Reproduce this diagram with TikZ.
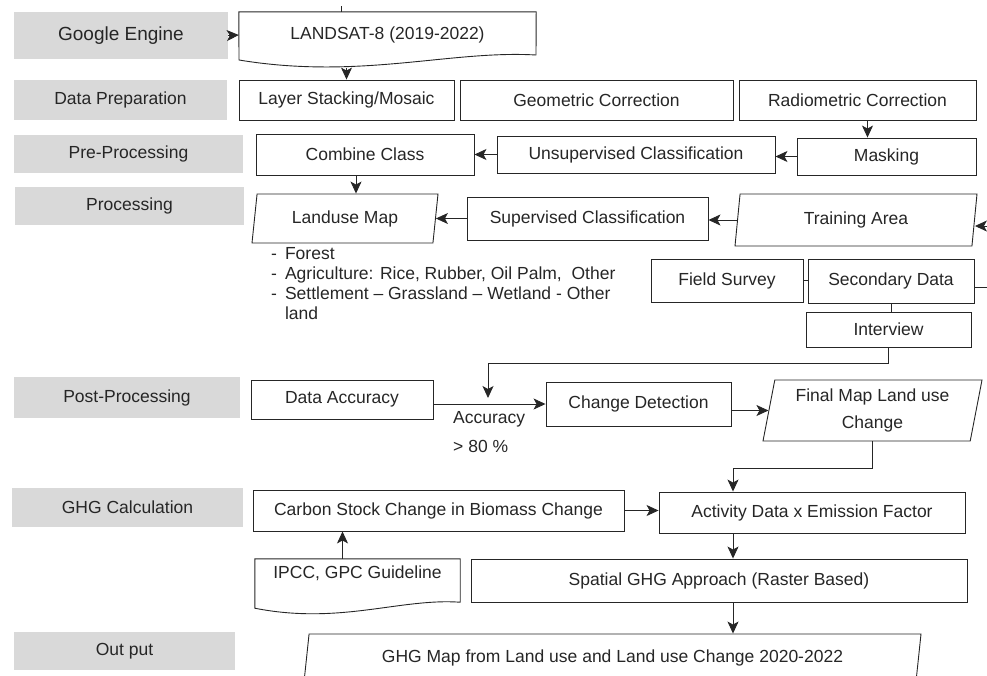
\documentclass[tikz,border=0pt]{standalone}
\usepackage{fontspec}
\setmainfont{Liberation Sans}
\usetikzlibrary{arrows.meta,shapes.geometric,calc}
\definecolor{stagegray}{HTML}{D9D9D9}
\definecolor{inkgray}{HTML}{262626}

\begin{document}
\begin{tikzpicture}[
        x=1pt, y=-1pt,
        every node/.style={font=\fontsize{17.5}{20}\selectfont, text=inkgray, inner sep=2pt},
        stage/.style={rectangle, fill=stagegray},
        box/.style={rectangle, draw=inkgray, line width=0.9pt, align=center},
        io/.style={trapezium, trapezium left angle=76, trapezium right angle=104,
            trapezium stretches body, draw=inkgray, line width=0.9pt, align=center},
        doc/.style={rectangle, align=center},
        arrow/.style={-{Stealth[length=12pt,width=11pt,inset=3pt]}, draw=inkgray, line width=0.9pt},
        link/.style={draw=inkgray, line width=0.9pt}
    ]
        \useasboundingbox (0,0) rectangle (987,675);
        \clip (0,0) rectangle (987,675);

        % Stages
        \node[stage, minimum width=214, minimum height=47, font=\fontsize{19}{22}\selectfont] (ge) at (121,35.5) {Google Engine};
        \node[stage, minimum width=213, minimum height=40] (dp) at (120.5,100) {Data Preparation};
        \node[stage, minimum width=229, minimum height=38] (pre) at (128.5,154) {Pre-Processing};
        \node[stage, minimum width=229, minimum height=38] (proc) at (129.5,206) {Processing};
        \node[stage, minimum width=226, minimum height=41] (post) at (127,397.5) {Post-Processing};
        \node[stage, minimum width=231, minimum height=39] (ghg) at (127.5,507.5) {GHG Calculation};
        \node[stage, minimum width=221, minimum height=38] (out) at (124.5,651) {Out put};

        % Source
        \node[doc, minimum width=297, minimum height=46] (landsat) at (387.5,35) {LANDSAT-8 (2019-2022)};
        \draw[link] (landsat.north west) -- (landsat.north east) -- (536,55)
            .. controls (450,50) and (360,80) .. (239,60) -- cycle;
        \coordinate (topcut) at (341,6);

        % Data preparation
        \node[box, minimum width=215, minimum height=40] (layer) at (346.5,100) {Layer Stacking/Mosaic};
        \node[box, minimum width=273, minimum height=40] (geo) at (596.5,100) {Geometric Correction};
        \node[box, minimum width=237, minimum height=40] (radio) at (857.5,100) {Radiometric Correction};

        % Pre-processing
        \node[box, minimum width=179, minimum height=37] (mask) at (886.5,156.5) {Masking};
        \node[box, minimum width=278, minimum height=37] (unsup) at (636,154.5) {Unsupervised Classification};
        \node[box, minimum width=218, minimum height=41] (combine) at (365,154.5) {Combine Class};

        % Processing
        \node[io, minimum width=186, minimum height=49] (landuse) at (345,218.5) {Landuse Map};
        \node[box, minimum width=241, minimum height=43] (sup) at (587.5,218.5) {Supervised Classification};
        \node[io, minimum width=242, minimum height=52] (train) at (856,220) {Training Area};
        \node[box, minimum width=152, minimum height=43] (field) at (727,280.5) {Field Survey};
        \node[box, minimum width=166, minimum height=44] (second) at (891,281) {Secondary Data};
        \node[box, minimum width=165, minimum height=35] (interview) at (888.5,329.5) {Interview};
        \node[anchor=north west] (classes) at (269,243) {%
            \begin{tabular}{@{}l@{\hspace{8pt}}l@{}}
                - & Forest\\
                - & Agriculture: Rice, Rubber, Oil Palm,\ \ Other\\
                - & Settlement -- Grassland -- Wetland - Other\\
                  & land
            \end{tabular}};
        \coordinate (inR) at (987,226);
        \coordinate (outR) at (987,287);

        % Post-processing
        \node[box, minimum width=182, minimum height=39] (acc) at (342,399.5) {Data Accuracy};
        \node[box, minimum width=185, minimum height=44] (change) at (638.5,404) {Change Detection};
        \node[io, minimum width=219, minimum height=61, font=\fontsize{17.5}{27}\selectfont] (final) at (872.5,410.5) {Final Map Land use\\Change};
        \node[anchor=north west, align=left] (acclbl) at (451,409) {Accuracy\\[9pt]> 80 \%};
        \coordinate (acctip) at (488,398);

        % GHG calculation
        \node[box, minimum width=371, minimum height=41] (carbon) at (438.5,510.5) {Carbon Stock Change in Biomass Change};
        \node[box, minimum width=306, minimum height=41] (activity) at (812,512.5) {Activity Data x Emission Factor};
        \node[doc, minimum width=205, minimum height=28] (ipcc) at (357.5,573) {IPCC, GPC Guideline};
        \draw[link] (ipcc.north west) -- (ipcc.north east) -- ([yshift=-15pt]ipcc.south east)
            .. controls (400,598) and (340,625) .. ([yshift=-21pt]ipcc.south west) -- cycle;
        \node[box, minimum width=496, minimum height=43] (spatial) at (719,580.5) {Spatial GHG Approach (Raster Based)};

        % Output
        \node[io, minimum width=617, minimum height=48] (ghgmap) at (612.5,658) {GHG Map from Land use and Land use Change 2020-2022};

        % Arrows
        \draw[link] (topcut) -- (topcut |- landsat.north);
        \draw[arrow] (ge.east) -- (landsat.west);
        \draw[arrow] (346.5,68) -- (layer.north);
        \draw[arrow] ([xshift=10pt]radio.south) -- ([xshift=10pt]radio.south |- mask.north);
        \draw[arrow] (mask.west) -- (mask.west -| unsup.east);
        \draw[arrow] (unsup.west) -- (unsup.west -| combine.east);
        \draw[arrow] ([xshift=-9pt]combine.south) -- ([xshift=-9pt]combine.south |- landuse.north);
        \draw[arrow] (sup.west) -- (sup.west -| landuse.east);
        \draw[arrow] (train.west) -- (train.west -| sup.east);
        \draw[arrow] (inR) -- (inR -| train.east);
        \draw[link] (field.east) -- (field.east -| second.west);
        \draw[link] (second.east |- outR) -- (outR);
        \draw[link] (second.south) -- (second.south |- interview.north);
        \draw[arrow] (interview.south) -- ++(0,16) -| (acctip);
        \draw[arrow] (acc.east |- change.west) -- (change.west);
        \draw[arrow] (change.east |- final.west) -- (final.west);
        \draw[arrow] (final.south) -- ++(0,27) -| ([xshift=-79pt]activity.north);
        \draw[arrow] (carbon.east) -- (carbon.east -| activity.west);
        \draw[arrow] ([xshift=-15pt]ipcc.north) -- ([xshift=-15pt]ipcc.north |- carbon.south);
        \draw[arrow] ([xshift=-79pt]activity.south) -- ([xshift=-79pt]activity.south |- spatial.north);
        \draw[arrow] ([xshift=14pt]spatial.south) -- ([xshift=14pt]spatial.south |- ghgmap.north);
    \end{tikzpicture}
\end{document}
